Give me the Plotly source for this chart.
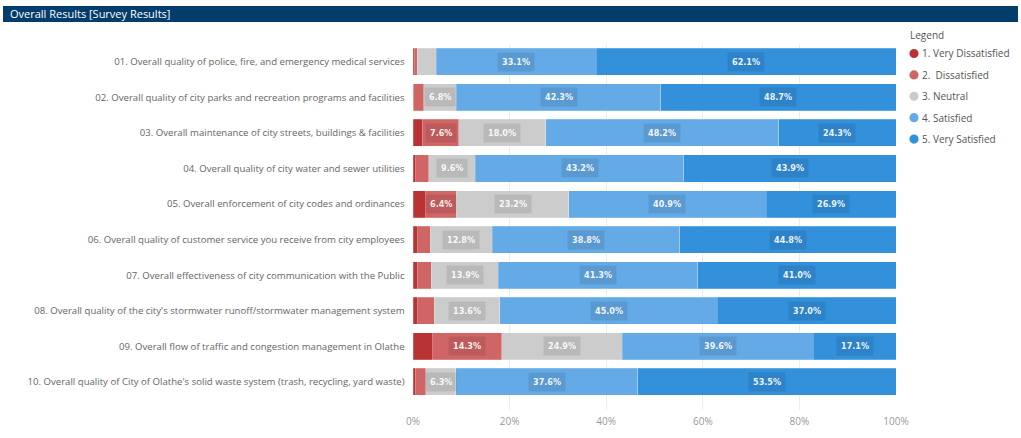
import plotly.graph_objects as go

categories = [
    "01. Overall quality of police, fire, and emergency medical services",
    "02. Overall quality of city parks and recreation programs and facilities",
    "03. Overall maintenance of city streets, buildings & facilities",
    "04. Overall quality of city water and sewer utilities",
    "05. Overall enforcement of city codes and ordinances",
    "06. Overall quality of customer service you receive from city employees",
    "07. Overall effectiveness of city communication with the Public",
    "08. Overall quality of the city's stormwater runoff/stormwater management system",
    "09. Overall flow of traffic and congestion management in Olathe",
    "10. Overall quality of City of Olathe's solid waste system (trash, recycling, yard waste)",
]
series_names = ["1. Very Dissatisfied", "2.  Dissatisfied", "3. Neutral", "4. Satisfied", "5. Very Satisfied"]
very_dissatisfied = [0.4, 0.2, 1.9, 0.6, 2.6, 1.0, 0.9, 1.0, 4.1, 0.5]
dissatisfied = [0.5, 2.0, 7.6, 2.7, 6.4, 2.6, 2.9, 3.4, 14.3, 2.1]
neutral = [3.9, 6.8, 18.0, 9.6, 23.2, 12.8, 13.9, 13.6, 24.9, 6.3]
satisfied = [33.1, 42.3, 48.2, 43.2, 40.9, 38.8, 41.3, 45.0, 39.6, 37.6]
very_satisfied = [62.1, 48.7, 24.3, 43.9, 26.9, 44.8, 41.0, 37.0, 17.1, 53.5]
x_ticks = [0, 20, 40, 60, 80, 100]
x_tick_labels = ["0%", "20%", "40%", "60%", "80%", "100%"]

series = [very_dissatisfied, dissatisfied, neutral, satisfied, very_satisfied]
colors = ["#b93234", "#d06566", "#cccccc", "#64aae6", "#3391dc"]

W, H = 1021, 438
ML, MR, MT, MB = 413, 3, 44, 28
PW = W - ML - MR
PH = H - MT - MB
PLOT_RIGHT = 896


def px_x(p):
    return (p - ML) / PW


def px_y(p):
    return (H - MB - p) / PH


fig = go.Figure()
for name, vals, col in zip(series_names, series, colors):
    fig.add_trace(go.Bar(
        y=categories, x=vals, orientation="h", name=name,
        marker=dict(color=col, line=dict(width=0.6, color="rgba(255,255,255,0.35)")),
        showlegend=False, hoverinfo="x+name",
    ))

annotations = []
for i, cat in enumerate(categories):
    cum = 0
    for vals in series:
        v = vals[i]
        if v >= 6:
            annotations.append(dict(
                x=cum + v / 2, y=cat, xref="x", yref="y",
                text=f"<b>{v:.1f}%</b>", showarrow=False,
                font=dict(family="DejaVu Sans Condensed, Roboto, sans-serif", size=9,
                          color="rgba(255,255,255,0.92)"),
                bgcolor="rgba(0,0,0,0.09)", borderpad=4,
            ))
        cum += v

# title bar text
annotations.append(dict(
    x=px_x(8), y=px_y(14), xref="paper", yref="paper",
    text="Overall Results [Survey Results]",
    showarrow=False, xanchor="left", yanchor="middle",
    font=dict(family="Open Sans, sans-serif", size=11, color="white"),
))

# legend (built from series names/colours)
legend_x_marker = 914
legend_x_text = 920
legend_y0 = 53.5
legend_step = 21.4
annotations.append(dict(
    x=px_x(908), y=px_y(35), xref="paper", yref="paper", text="Legend",
    showarrow=False, xanchor="left", yanchor="middle",
    font=dict(family="Open Sans, sans-serif", size=10, color="#555555"),
))
shapes = []
for k, (name, col) in enumerate(zip(series_names, colors)):
    yc = legend_y0 + k * legend_step
    annotations.append(dict(
        x=px_x(legend_x_text), y=px_y(yc), xref="paper", yref="paper", text=name,
        showarrow=False, xanchor="left", yanchor="middle",
        font=dict(family="Open Sans, sans-serif", size=10, color="#555555"),
    ))
    shapes.append(dict(
        type="circle", xref="paper", yref="paper",
        xsizemode="pixel", ysizemode="pixel",
        xanchor=px_x(legend_x_marker), yanchor=px_y(yc),
        x0=-4.6, x1=4.6, y0=-4.6, y1=4.6,
        fillcolor=col, line=dict(width=0),
    ))

shapes.append(dict(type="rect", xref="paper", yref="paper",
                   x0=px_x(3), x1=px_x(1018), y0=px_y(22), y1=px_y(6),
                   fillcolor="#023d6b", line=dict(width=0), layer="above"))

fig.update_layout(
    width=W, height=H,
    margin=dict(l=ML, r=MR, t=MT, b=MB, autoexpand=False),
    barmode="stack", bargap=0.24,
    plot_bgcolor="white", paper_bgcolor="white",
    font=dict(family="Open Sans, sans-serif", color="#666666"),
    xaxis=dict(domain=[0, (PLOT_RIGHT - ML) / PW], range=[0, 100],
               tickvals=x_ticks, ticktext=x_tick_labels,
               showgrid=True, gridcolor="#ececec", gridwidth=1, zeroline=False,
               tickfont=dict(size=10, color="#999999"), ticklabelstandoff=4,
               fixedrange=True),
    yaxis=dict(autorange=False, range=[9.79, -0.5], tickfont=dict(size=9.6, color="#666666"),
               ticksuffix="   ", showgrid=False, fixedrange=True),
    showlegend=False,
    annotations=annotations,
    shapes=shapes,
)

fig.write_html("out.html")
